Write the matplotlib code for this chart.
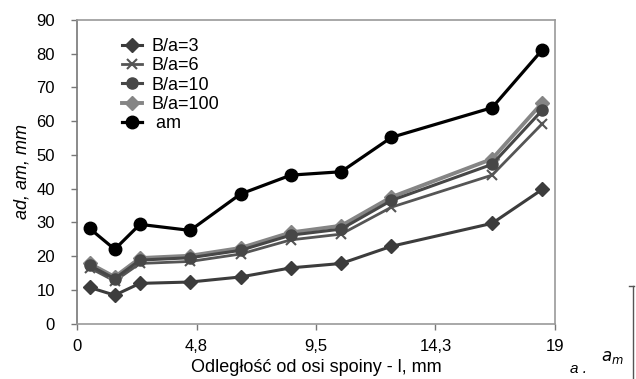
import matplotlib
matplotlib.use("Agg")
import matplotlib.pyplot as plt

plt.rcParams['font.family'] = ['Liberation Sans', 'DejaVu Sans']

x = [0.5, 1.5, 2.5, 4.5, 6.5, 8.5, 10.5, 12.5, 16.5, 18.5]
ba3 = [10.7, 8.4, 11.9, 12.3, 13.8, 16.5, 17.8, 22.9, 29.7, 39.8]
ba6 = [16.5, 12.6, 17.8, 18.4, 20.6, 24.8, 26.5, 34.5, 44.0, 59.3]
ba10 = [17.2, 13.3, 18.8, 19.5, 21.7, 26.2, 28.0, 36.5, 47.2, 63.3]
ba100 = [17.8, 13.8, 19.4, 20.1, 22.4, 27.0, 29.0, 37.5, 48.8, 65.5]
am = [28.2, 22.0, 29.4, 27.6, 38.4, 44.0, 45.0, 55.2, 64.0, 81.2]

xticks = [0, 4.75, 9.5, 14.25, 19]
xticklabels = ["0", "4,8", "9,5", "14,3", "19"]
yticks = [0, 10, 20, 30, 40, 50, 60, 70, 80, 90]

fig = plt.figure(figsize=(6.36, 3.79), dpi=100)
ax = fig.add_axes([77/636, 1-323.5/379, (555-77)/636, (323.5-20)/379])

ax.plot(x, ba3, color='#3c3c3c', lw=2.2, marker='D', ms=7.5, label='B/a=3', zorder=3)
ax.plot(x, ba6, color='#555555', lw=2.0, marker='x', ms=7, mew=1.5, label='B/a=6', zorder=4)
ax.plot(x, ba10, color='#474747', lw=2.2, marker='o', ms=8, label='B/a=10', zorder=5)
ax.plot(x, ba100, color='#858585', lw=2.8, marker='D', ms=7.5, label='B/a=100', zorder=4)
ax.plot(x, am, color='#000000', lw=2.3, marker='o', ms=9, label=' am', zorder=6)

ax.set_xlim(0, 19)
ax.set_ylim(0, 90)
ax.set_xticks(xticks)
ax.set_xticklabels(xticklabels)
ax.set_yticks(yticks)
ax.tick_params(axis='both', labelsize=12, direction='out', length=4, color='#777777', width=1)
ax.tick_params(axis='x', pad=7)
ax.tick_params(axis='y', pad=12)
for s in ['top', 'right', 'bottom']:
    ax.spines[s].set_color('#9a9a9a')
    ax.spines[s].set_linewidth(1.2)
ax.spines['left'].set_color('#777777')
ax.spines['left'].set_linewidth(1.2)

ax.set_xlabel('Odległość od osi spoiny - l, mm', fontsize=13, labelpad=4)
ax.set_ylabel('ad, am, mm', fontsize=13, style='italic', labelpad=4)

leg = ax.legend(loc='upper left', bbox_to_anchor=(0.08, 0.965), frameon=False,
                fontsize=13, handlelength=1.1, handletextpad=0.5, labelspacing=0.13,
                borderaxespad=0)

fig.text(570/636, 0.008, 'a .', fontsize=11, style='italic', ha='left', va='bottom')
fig.text(601/636, 0.035, r'$a_m$', fontsize=12, ha='left', va='bottom')
fig.add_artist(plt.Line2D([633/636, 633/636], [0, 93/379], color='#555555', lw=1))
fig.add_artist(plt.Line2D([629/636, 634/636], [93/379, 93/379], color='#555555', lw=1))

fig.savefig('out.png', dpi=100)
